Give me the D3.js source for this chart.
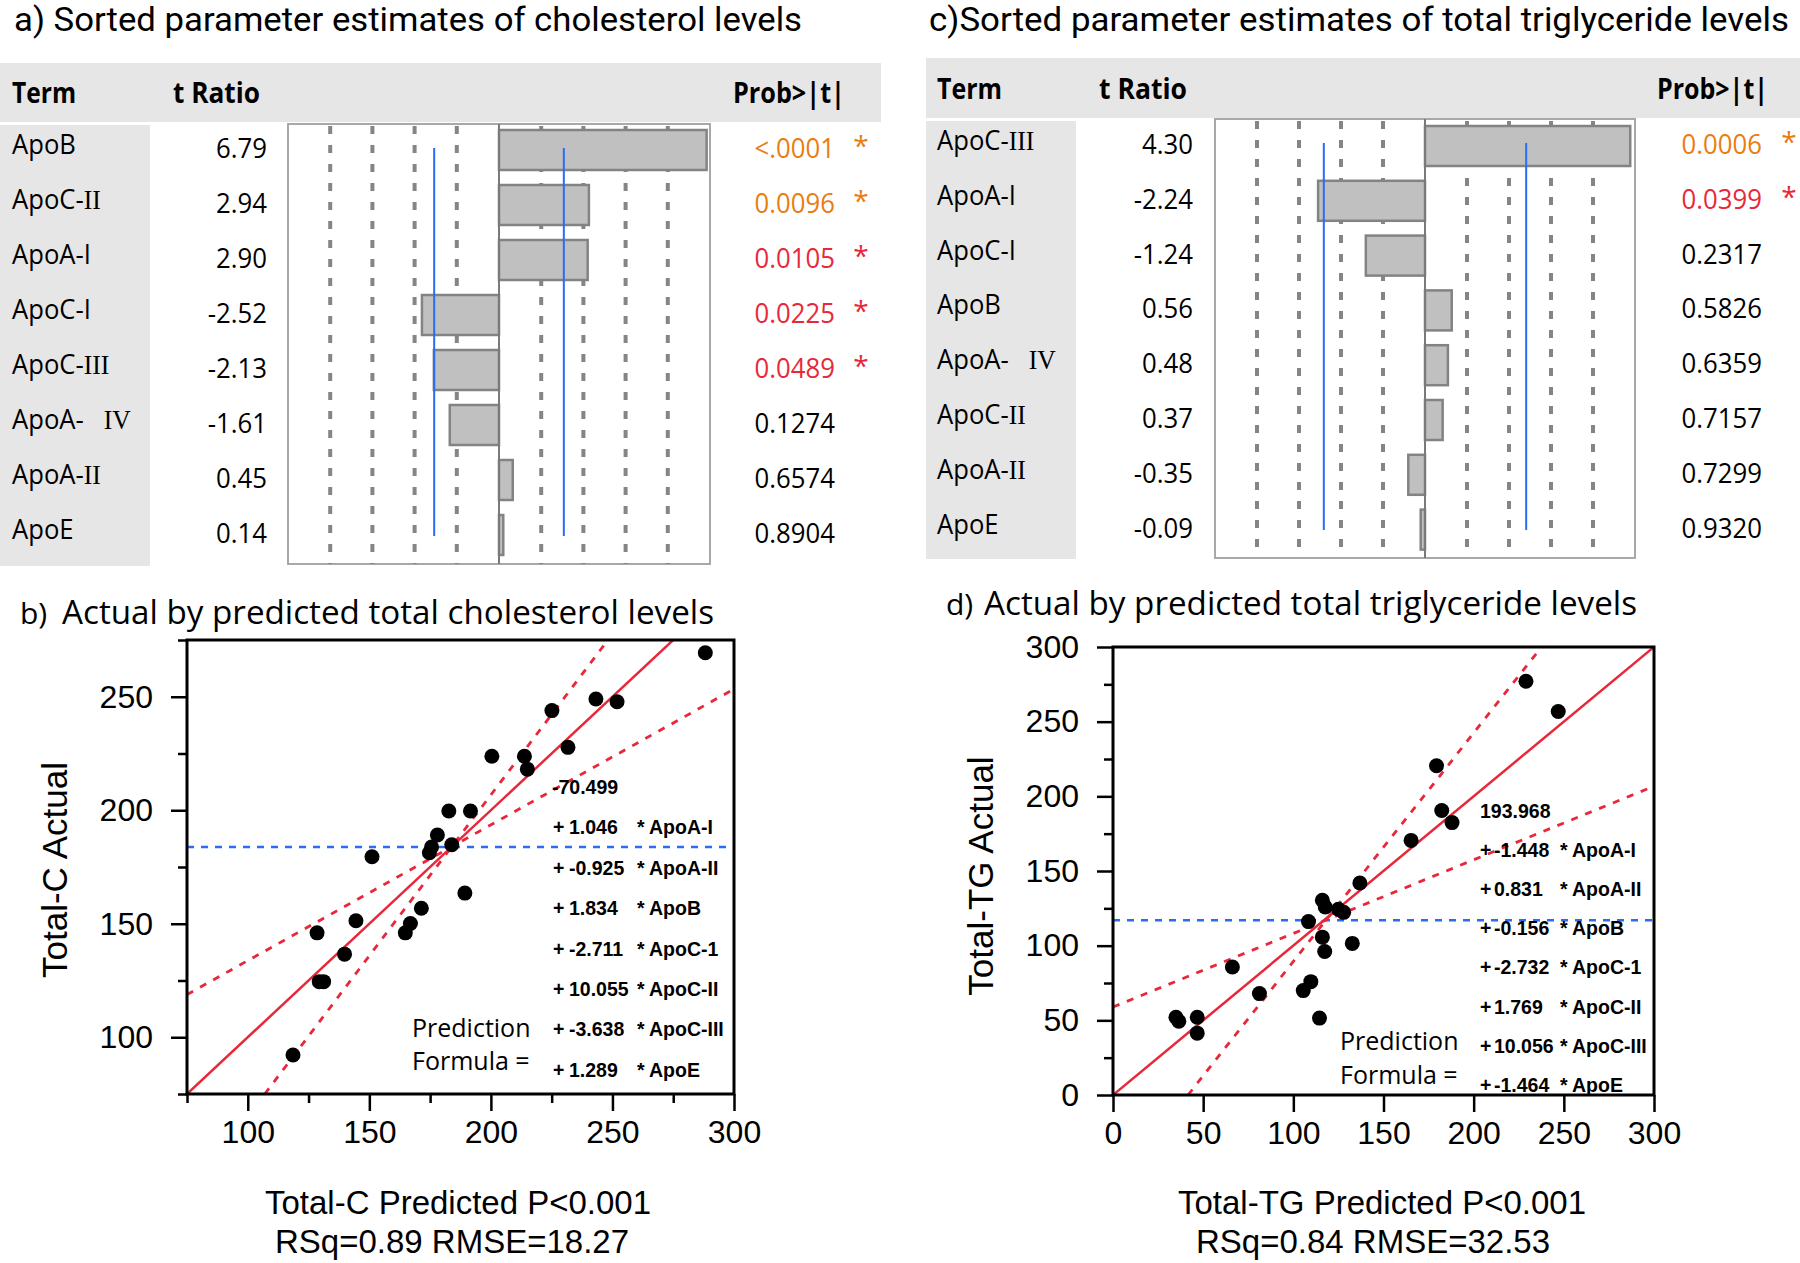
<!DOCTYPE html>
<html lang="en">
<head>
<meta charset="UTF-8">
<title>Sorted parameter estimates and actual by predicted plots</title>
<script src="https://d3js.org/d3.v7.min.js"></script>
<style>
  body { margin: 0; background: #fff; }
  svg { display: block; }
  .sans { font-family: "Open Sans", "Noto Sans", "Noto Sans CJK SC", sans-serif; }
  .head { font-family: Roboto, "Open Sans", sans-serif; }
  .arial { font-family: "Liberation Sans", Arial, sans-serif; }
  .axis text { font-family: "Liberation Sans", Arial, sans-serif; font-size: 32px; fill: #000; }
  .axis line { stroke: #000; stroke-width: 2.5; }
  .axis path { display: none; }
</style>
</head>
<body>
<svg width="1800" height="1263"></svg>
<script>
// a) cholesterol, sorted estimates
const termsA = ["ApoB", "ApoC-Ⅱ", "ApoA-I", "ApoC-I", "ApoC-Ⅲ", "ApoA-\u00a0\u00a0\u00a0Ⅳ", "ApoA-Ⅱ", "ApoE"];
const tRatioA = [6.79, 2.94, 2.90, -2.52, -2.13, -1.61, 0.45, 0.14];
const probA = ["<.0001", "0.0096", "0.0105", "0.0225", "0.0489", "0.1274", "0.6574", "0.8904"];
const gridA = [-5.52, -4.14, -2.76, -1.38, 1.38, 2.76, 4.14, 5.52];

// c) triglyceride, sorted estimates
const termsC = ["ApoC-Ⅲ", "ApoA-I", "ApoC-I", "ApoB", "ApoA-\u00a0\u00a0\u00a0Ⅳ", "ApoC-Ⅱ", "ApoA-Ⅱ", "ApoE"];
const tRatioC = [4.30, -2.24, -1.24, 0.56, 0.48, 0.37, -0.35, -0.09];
const probC = ["0.0006", "0.0399", "0.2317", "0.5826", "0.6359", "0.7157", "0.7299", "0.9320"];
const gridC = [-3.52, -2.64, -1.76, -0.88, 0.88, 1.76, 2.64, 3.52];

const tCrit = 2.12;

// b) total cholesterol, actual by predicted
const predB = [288.2, 243.2, 251.9, 225.1, 231.7, 200.4, 213.8, 215.0, 182.7, 191.6, 178.0, 175.6, 174.7,
               183.9, 151.1, 189.3, 171.4, 166.9, 164.8, 144.5, 128.5, 139.8, 129.4, 131.2, 118.6];
const actB  = [269.4, 249.0, 247.8, 243.9, 227.7, 223.8, 223.8, 218.1, 199.7, 199.7, 189.1, 183.8, 181.3,
               184.8, 179.5, 163.5, 156.8, 150.1, 146.0, 151.3, 146.0, 136.6, 124.5, 124.5, 92.2];
const meanB = 183.8;
const fitB = [[75, 75], [300, 300]];
const ciB = [[[75, 118.8], [300, 253.4]], [[107, 75], [248.5, 275.5]]];
const xTicksB = [100, 150, 200, 250, 300], xMinorB = [75, 125, 175, 225, 275];
const yTicksB = [100, 150, 200, 250], yMinorB = [75, 125, 175, 225, 275];
const coefB = ["1.046", "-0.925", "1.834", "-2.711", "10.055", "-3.638", "1.289"];

// d) total triglyceride, actual by predicted
const predD = [229.0, 246.9, 179.4, 182.3, 188.0, 165.3, 136.9, 116.1, 117.7, 125.0, 127.9, 108.4,
               116.1, 132.7, 117.4, 66.2, 109.7, 105.5, 81.2, 114.5, 34.9, 36.5, 46.7, 46.7];
const actD  = [277.1, 256.8, 220.5, 190.5, 182.4, 170.5, 142.0, 130.4, 125.9, 124.4, 122.3, 116.1,
               105.7, 101.5, 96.1, 85.7, 75.9, 69.9, 67.9, 51.5, 52.1, 49.4, 52.1, 41.4];
const meanD = 117.0;
const fitD = [[0, 0], [300, 300]];
const ciD = [[[0, 58.9], [300, 206.8]], [[41.6, 0], [237.6, 300]]];
const xTicksD = [0, 50, 100, 150, 200, 250, 300], xMinorD = [];
const yTicksD = [0, 50, 100, 150, 200, 250, 300], yMinorD = [25, 75, 125, 175, 225, 275];
const coefD = ["-1.448", "0.831", "-0.156", "-2.732", "1.769", "10.056", "-1.464"];

const formulaTerms = ["ApoA-I", "ApoA-II", "ApoB", "ApoC-1", "ApoC-II", "ApoC-III", "ApoE"];

const svg = d3.select("svg");
const RED = "#e8283a", ORANGE = "#ea7d10", BLUE = "#2b6cf5";
const ROMAN = {"Ⅱ": "II", "Ⅲ": "III", "Ⅳ": "IV"};

function label(g, x, y, s, o = {}) {
  const t = g.append("text")
    .attr("class", o.cls || "sans")
    .attr("font-size", o.size || 27)
    .attr("font-weight", o.weight || "normal")
    .attr("text-anchor", o.anchor || "start")
    .attr("fill", o.fill || "#000")
    .text(s);
  if (o.len) {
    t.attr("x", x).attr("y", y).attr("textLength", o.len).attr("lengthAdjust", "spacingAndGlyphs");
  } else {
    t.attr("transform", `translate(${x},${y}) scale(${o.sx || 1},1)`);
  }
  return t;
}

// term names: roman numerals drawn in a serif face like the original
function termLabel(g, x, y, s) {
  const t = g.append("text").attr("class", "sans").attr("font-size", 27)
    .attr("transform", `translate(${x},${y}) scale(0.95,1)`);
  s.split(/([ⅡⅢⅣ])/).filter(p => p).forEach(p => {
    if (ROMAN[p]) t.append("tspan").attr("font-family", "'Liberation Serif', 'DejaVu Serif', serif").text(ROMAN[p]);
    else t.append("tspan").text(p);
  });
}

function probColor(p) {
  const v = parseFloat(p.replace("<", ""));
  return v < 0.01 ? ORANGE : v < 0.05 ? RED : "#000";
}

function estimatePanel(c) {
  const g = svg.append("g");
  label(g, c.title[0], c.title[1], c.title[2], {cls: "head", size: 33, len: c.title[3]});

  g.append("rect").attr("x", c.band[0]).attr("y", c.band[1]).attr("width", c.band[2]).attr("height", c.band[3]).attr("fill", "#e6e6e6");
  g.append("rect").attr("x", c.col[0]).attr("y", c.col[1]).attr("width", c.col[2]).attr("height", c.col[3]).attr("fill", "#e6e6e6");
  label(g, c.head[0][0], c.headY, "Term", {size: 28, weight: "bold", len: c.head[0][1]});
  label(g, c.head[1][0], c.headY, "t Ratio", {size: 28, weight: "bold", len: c.head[1][1]});
  label(g, c.head[2][0], c.headY, "Prob>|t|", {size: 28, weight: "bold", len: c.head[2][1]});

  const x = d3.scaleLinear().domain([-c.tMax, c.tMax]).range(c.boxX);
  const y = d3.scaleBand().domain(d3.range(c.terms.length)).range(c.rows);
  const [y0, y1] = c.boxY;

  g.append("rect").attr("x", c.boxX[0]).attr("y", y0).attr("width", c.boxX[1] - c.boxX[0]).attr("height", y1 - y0)
    .attr("fill", "#fff").attr("stroke", "#a8a8a8").attr("stroke-width", 2);

  g.selectAll(".grid").data(c.grid).join("line")
    .attr("x1", d => x(d)).attr("x2", d => x(d)).attr("y1", y0 + 2).attr("y2", y1)
    .attr("stroke", "#858585").attr("stroke-width", 4).attr("stroke-dasharray", "8,11");

  g.selectAll(".bar").data(c.t).join("rect")
    .attr("x", d => Math.min(x(0), x(d))).attr("width", d => Math.abs(x(d) - x(0)))
    .attr("y", (d, i) => y(i) + (y.bandwidth() - 40) / 2).attr("height", 40)
    .attr("fill", "#c0c0c0").attr("stroke", "#838383").attr("stroke-width", 2.5);

  g.append("line").attr("x1", x(0)).attr("x2", x(0)).attr("y1", y0).attr("y2", y1)
    .attr("stroke", "#7a7a7a").attr("stroke-width", 2);

  g.selectAll(".crit").data([-tCrit, tCrit]).join("line")
    .attr("x1", d => x(d)).attr("x2", d => x(d)).attr("y1", c.blueY[0]).attr("y2", c.blueY[1])
    .attr("stroke", BLUE).attr("stroke-width", 2);

  c.terms.forEach((term, i) => {
    const cy = y(i) + y.bandwidth() / 2;
    termLabel(g, c.termX, cy + 4, term);
    label(g, c.tX, cy + 8, c.t[i].toFixed(2), {size: 28, sx: 0.92, anchor: "end"});
    const col = probColor(c.p[i]);
    label(g, c.pX, cy + 8, c.p[i], {size: 28, sx: 0.92, anchor: "end", fill: col});
    if (col !== "#000") label(g, c.starX, cy + 6, "*", {size: 28, anchor: "middle", fill: col});
  });
}

estimatePanel({
  title: [14, 31, "a) Sorted parameter estimates of cholesterol levels", 788],
  band: [0, 63, 881, 59], col: [0, 125, 150, 441],
  headY: 103, head: [[12, 64], [173, 87], [733, 112]],
  terms: termsA, t: tRatioA, p: probA, grid: gridA, tMax: 6.9,
  boxX: [288, 710], boxY: [124, 564], rows: [122.5, 562.5], blueY: [148, 536],
  termX: 12, tX: 267, pX: 835, starX: 861
});

estimatePanel({
  title: [929, 31, "c)Sorted parameter estimates of total triglyceride levels", 860],
  band: [926, 58, 874, 60], col: [926, 121, 150, 438],
  headY: 99, head: [[937, 65], [1099, 88], [1657, 111]],
  terms: termsC, t: tRatioC, p: probC, grid: gridC, tMax: 4.4,
  boxX: [1215, 1635], boxY: [119, 558], rows: [118.6, 557], blueY: [143, 530],
  termX: 937, tX: 1193, pX: 1762, starX: 1789
});

function scatterPanel(c) {
  const g = svg.append("g");
  label(g, c.tag[0], c.tag[1], c.tag[2], {size: 30});
  label(g, c.title[0], c.title[1], c.title[2], {size: 33, len: c.title[3]});

  const x = d3.scaleLinear().domain(c.xDom).range([c.left, c.right]);
  const y = d3.scaleLinear().domain(c.yDom).range([c.bottom, c.top]);

  const clipId = "clip-" + c.id;
  svg.append("clipPath").attr("id", clipId).append("rect")
    .attr("x", c.left).attr("y", c.top).attr("width", c.right - c.left).attr("height", c.bottom - c.top);
  const p = g.append("g").attr("clip-path", `url(#${clipId})`);
  const line = d3.line().x(d => x(d[0])).y(d => y(d[1]));

  p.append("path").datum([[c.xDom[0], c.mean], [c.xDom[1], c.mean]]).attr("d", line)
    .attr("stroke", BLUE).attr("stroke-width", 2.5).attr("stroke-dasharray", "7,7").attr("fill", "none");
  p.selectAll(".ci").data(c.ci).join("path").attr("d", line)
    .attr("stroke", RED).attr("stroke-width", 2.8).attr("stroke-dasharray", "7,8").attr("fill", "none");
  p.append("path").datum(c.fit).attr("d", line)
    .attr("stroke", RED).attr("stroke-width", 2.5).attr("fill", "none");

  g.selectAll(".dot").data(c.pred).join("circle")
    .attr("cx", d => x(d)).attr("cy", (d, i) => y(c.act[i])).attr("r", 7.5).attr("fill", "#000");

  // prediction formula
  const f = c.form;
  label(g, f.x0, f.y0, f.intercept, {cls: "arial", size: 19.5, weight: "bold"});
  c.coef.forEach((v, i) => {
    const yy = f.y0 + f.dy * (i + 1);
    label(g, f.plus, yy, "+", {cls: "arial", size: 19.5, weight: "bold"});
    label(g, f.num, yy, v, {cls: "arial", size: 19.5, weight: "bold"});
    label(g, f.star, yy, "*", {cls: "arial", size: 19.5, weight: "bold"});
    label(g, f.term, yy, formulaTerms[i], {cls: "arial", size: 19.5, weight: "bold"});
  });
  label(g, f.px, f.py[0], "Prediction", {size: 25});
  label(g, f.px, f.py[1], "Formula =", {size: 25});

  g.append("rect").attr("x", c.left).attr("y", c.top).attr("width", c.right - c.left).attr("height", c.bottom - c.top)
    .attr("fill", "none").attr("stroke", "#000").attr("stroke-width", 3);

  g.append("g").attr("class", "axis").attr("transform", `translate(0,${c.bottom})`)
    .call(d3.axisBottom(x).tickValues(c.xTicks).tickSize(17).tickPadding(9).tickFormat(d3.format("d")));
  g.append("g").attr("class", "axis").attr("transform", `translate(0,${c.bottom})`)
    .call(d3.axisBottom(x).tickValues(c.xMinor).tickSize(9).tickFormat(""));
  g.append("g").attr("class", "axis").attr("transform", `translate(${c.left},0)`)
    .call(d3.axisLeft(y).tickValues(c.yTicks).tickSize(16).tickPadding(18).tickFormat(d3.format("d")));
  g.append("g").attr("class", "axis").attr("transform", `translate(${c.left},0)`)
    .call(d3.axisLeft(y).tickValues(c.yMinor).tickSize(9).tickFormat(""));

  label(g, 0, 0, c.yLabel[0], {cls: "arial", size: 35, anchor: "middle"})
    .attr("transform", `translate(${c.yLabel[1]},${c.yLabel[2]}) rotate(-90)`);
  label(g, c.xLabel[1], 1214, c.xLabel[0], {cls: "arial", size: 33, anchor: "middle"});
  label(g, c.xLabel[2], 1253, c.xLabel[3], {cls: "arial", size: 33, anchor: "middle"});
}

scatterPanel({
  id: "b", tag: [20, 624, "b)"], title: [62, 624, "Actual by predicted total cholesterol levels", 652],
  xDom: [75, 300], yDom: [75, 275], left: 187, right: 734, top: 640, bottom: 1094,
  pred: predB, act: actB, mean: meanB, fit: fitB, ci: ciB,
  xTicks: xTicksB, xMinor: xMinorB, yTicks: yTicksB, yMinor: yMinorB, coef: coefB,
  form: {intercept: "-70.499", x0: 552, y0: 794, dy: 40.4, plus: 553, num: 569, star: 637, term: 649, px: 412, py: [1037, 1070]},
  yLabel: ["Total-C Actual", 67, 870],
  xLabel: ["Total-C Predicted P<0.001", 458, 452, "RSq=0.89 RMSE=18.27"]
});

scatterPanel({
  id: "d", tag: [946, 615, "d)"], title: [984, 615, "Actual by predicted total triglyceride levels", 653],
  xDom: [0, 300], yDom: [0, 300], left: 1113, right: 1654, top: 647, bottom: 1095,
  pred: predD, act: actD, mean: meanD, fit: fitD, ci: ciD,
  xTicks: xTicksD, xMinor: xMinorD, yTicks: yTicksD, yMinor: yMinorD, coef: coefD,
  form: {intercept: "193.968", x0: 1480, y0: 818, dy: 39.1, plus: 1480, num: 1494, star: 1560, term: 1572, px: 1340, py: [1050, 1084]},
  yLabel: ["Total-TG Actual", 993, 876],
  xLabel: ["Total-TG Predicted P<0.001", 1382, 1373, "RSq=0.84 RMSE=32.53"]
});
</script>
</body>
</html>
